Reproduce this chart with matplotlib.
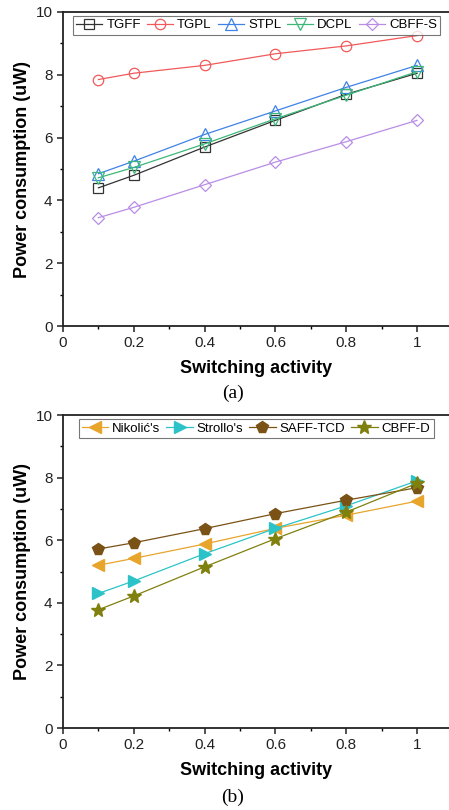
import matplotlib
matplotlib.use("Agg")
import matplotlib.pyplot as plt
from matplotlib.ticker import MultipleLocator

plt.rcParams['font.family'] = ['Liberation Sans', 'DejaVu Sans']

# ---- data ----
activity = [0.1, 0.2, 0.4, 0.6, 0.8, 1.0]

names_a = ["TGFF", "TGPL", "STPL", "DCPL", "CBFF-S"]
tgff = [4.40, 4.80, 5.70, 6.55, 7.38, 8.05]
tgpl = [7.85, 8.05, 8.30, 8.67, 8.92, 9.25]
stpl = [4.85, 5.25, 6.10, 6.85, 7.60, 8.30]
dcpl = [4.72, 5.05, 5.80, 6.60, 7.35, 8.10]
cbff_s = [3.45, 3.78, 4.50, 5.22, 5.87, 6.55]

names_b = ["Nikolić's", "Strollo's", "SAFF-TCD", "CBFF-D"]
nikolic = [5.20, 5.42, 5.88, 6.38, 6.80, 7.25]
strollo = [4.30, 4.70, 5.57, 6.38, 7.10, 7.90]
saff_tcd = [5.72, 5.92, 6.37, 6.85, 7.28, 7.68]
cbff_d = [3.78, 4.22, 5.15, 6.05, 6.90, 7.82]

# ---- styles ----
styles_a = [("#333333", "s", 7.0), ("#f05a5a", "o", 7.5),
            ("#3f82e6", "^", 8.0), ("#3cb878", "v", 8.0),
            ("#b98de6", "D", 6.5)]
styles_b = [("#e8a52c", "<", 8.0), ("#2cc3c8", ">", 8.0),
            ("#7a5216", "p", 8.5), ("#80800e", "*", 10.0)]


def setup_axes(ax):
    ax.set_xlim(0, 1.09)
    ax.set_ylim(0, 10)
    ax.yaxis.set_major_locator(MultipleLocator(2))
    ax.yaxis.set_minor_locator(MultipleLocator(1))
    ax.xaxis.set_minor_locator(MultipleLocator(0.1))
    ax.set_xticks([0, 0.2, 0.4, 0.6, 0.8, 1.0])
    ax.set_xticklabels(["0", "0.2", "0.4", "0.6", "0.8", "1"])
    ax.tick_params(which="major", direction="out", length=4, width=1.1,
                   labelsize=11, colors="#222222")
    ax.tick_params(which="minor", direction="out", length=2.5, width=1.0)
    for s in ax.spines.values():
        s.set_linewidth(1.3)
        s.set_color("#222222")
    # the right border is cropped off in the original figure
    ax.spines["right"].set_visible(False)
    ax.set_xlabel("Switching activity", fontsize=13, fontweight="bold",
                  labelpad=7)
    ax.set_ylabel("Power consumption (uW)", fontsize=13, fontweight="bold",
                  labelpad=3)


fig = plt.figure(figsize=(4.49, 8.10), dpi=100)
ax1 = fig.add_axes([0.1403, 0.5975, 0.8597, 0.3877])
ax2 = fig.add_axes([0.1403, 0.1012, 0.8597, 0.3864])

for ys, name, (c, m, ms) in zip([tgff, tgpl, stpl, dcpl, cbff_s], names_a, styles_a):
    ax1.plot(activity, ys, color=c, marker=m, markersize=ms,
             markerfacecolor="none", markeredgewidth=0.9, linewidth=0.9,
             label=name)

for ys, name, (c, m, ms) in zip([nikolic, strollo, saff_tcd, cbff_d], names_b, styles_b):
    ax2.plot(activity, ys, color=c, marker=m, markersize=ms,
             markerfacecolor=c, markeredgecolor=c, linewidth=0.9, label=name)

for ax in (ax1, ax2):
    setup_axes(ax)

leg_kw = dict(fontsize=9.5, frameon=True, fancybox=False, handlelength=2.0,
              handletextpad=0.3, columnspacing=0.45, borderpad=0.25,
              borderaxespad=0.3, edgecolor="#555555")
l1 = ax1.legend(ncol=5, loc="upper left", bbox_to_anchor=(0.015, 1.0), **leg_kw)
l1.get_frame().set_linewidth(0.8)
l2 = ax2.legend(ncol=4, loc="upper left", bbox_to_anchor=(0.03, 1.0), **leg_kw)
l2.get_frame().set_linewidth(0.8)

fig.text(0.519, 0.515, "(a)", fontsize=14, family="Liberation Serif",
         ha="center", va="center")
fig.text(0.519, 0.016, "(b)", fontsize=14, family="Liberation Serif",
         ha="center", va="center")

fig.savefig("out.png", dpi=100)
